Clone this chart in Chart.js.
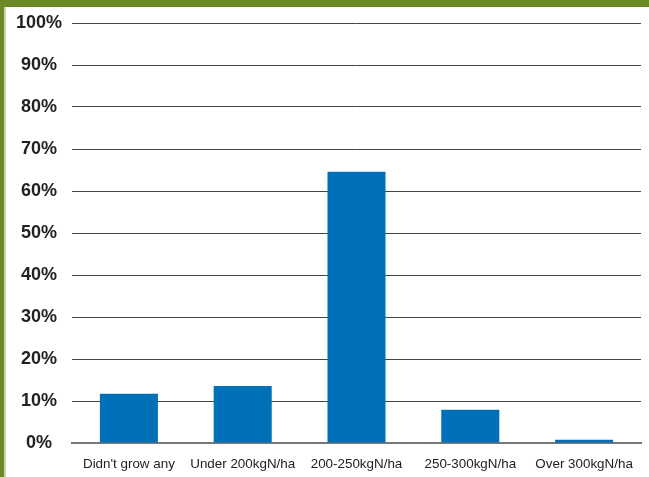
<!DOCTYPE html>
<html lang="en">
<head>
  <meta charset="UTF-8">
  <title>Nitrogen application</title>
  <style>
    body{margin:0;background:#fff;width:649px;height:477px;overflow:hidden;position:relative}
    .top{position:absolute;left:0;top:0;width:649px;height:7px;background:#6b8a26}
    .left{position:absolute;left:0;top:0;width:4px;height:477px;background:#6b8a26}
    .strip{position:absolute;left:4px;top:7px;width:2px;height:470px;background:#c9d6ae}
    #wrap{position:absolute;left:0;top:0;width:649px;height:477px}
  </style>
  <script src="https://cdn.jsdelivr.net/npm/chart.js"></script>
</head>
<body>
  <div id="wrap"><canvas id="barChart"></canvas></div>
  <div class="top"></div><div class="left"></div><div class="strip"></div>
  <script>
    const categories = ["Didn't grow any", 'Under 200kgN/ha', '200-250kgN/ha', '250-300kgN/ha', 'Over 300kgN/ha'];
    const shares     = [11.7, 13.6, 64.6, 7.9, 0.8];
    const yTicks     = [0, 10, 20, 30, 40, 50, 60, 70, 80, 90, 100];

    new Chart(document.getElementById('barChart'), {
      type: 'bar',
      data: {
        labels: categories,
        datasets: [{ data: shares, backgroundColor: '#0070b8', barPercentage: 0.51, categoryPercentage: 1 }]
      },
      options: {
        responsive: true,
        maintainAspectRatio: false,
        animation: false,
        layout: { padding: { top: 23, right: 8, bottom: 0, left: 0 } },
        plugins: { legend: { display: false }, tooltip: { enabled: false } },
        scales: {
          x: {
            afterFit: s => { s.height = 34; },
            grid: { display: false, drawTicks: false },
            border: { color: '#777', width: 2 },
            ticks: { color: '#222', padding: 13, font: { family: 'Liberation Sans', size: 13.4 } }
          },
          y: {
            min: 0, max: 100,
            afterFit: s => { s.width = 72; },
            afterBuildTicks: s => { s.ticks = yTicks.map(v => ({ value: v })); },
            grid: { color: '#444', lineWidth: 1, drawTicks: false },
            border: { display: false },
            ticks: {
              color: '#222', padding: 10, crossAlign: 'center',
              font: { family: 'Liberation Sans', size: 18, weight: 'bold' },
              callback: v => v + '%'
            }
          }
        }
      }
    });
  </script>
</body>
</html>
